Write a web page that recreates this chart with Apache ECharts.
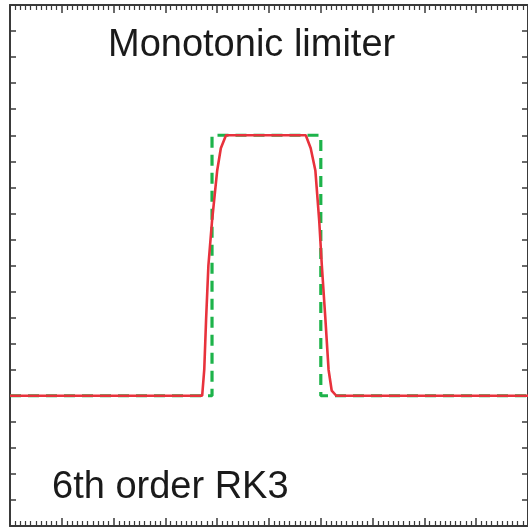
<!DOCTYPE html>
<html>
<head>
<meta charset="utf-8">
<script src="https://cdn.jsdelivr.net/npm/echarts@6/dist/echarts.min.js"></script>
<style>
html,body{margin:0;padding:0;background:#fff;}
#chart{width:528px;height:531px;}
</style>
</head>
<body>
<div id="chart"></div>
<script>
// Exact solution (green dashed square wave)
const exactX = [0, 39, 39, 60, 60, 100];
const exactY = [0, 0, 1, 1, 0, 0];
// Numerical solution (red solid line)
const numX = [0, 37.1, 37.5, 37.85, 38.3, 39.0, 40.0, 40.7, 41.7, 57.1, 58.05, 58.95, 59.7, 60.2, 60.9, 61.5, 62.1, 63.0, 100];
const numY = [0, 0, 0.1, 0.29, 0.5, 0.67, 0.865, 0.95, 1, 1, 0.95, 0.865, 0.67, 0.5, 0.29, 0.1, 0.02, 0, 0];
const titleText = 'Monotonic limiter';
const schemeText = '6th order RK3';

const pair = (xs, ys) => xs.map((x, i) => [x, ys[i]]);
const frameColor = '#3a3a3a';
function xAx(pos) {
  return {
    type: 'value', position: pos, min: 0, max: 100, interval: 10,
    axisLine: {show: true, onZero: false, lineStyle: {color: frameColor, width: 2}},
    axisTick: {show: true, inside: true, length: 8, lineStyle: {color: frameColor, width: 1.5}},
    minorTick: {show: true, splitNumber: 10, length: 5, lineStyle: {color: frameColor, width: 1.2}},
    axisLabel: {show: false}, splitLine: {show: false}, minorSplitLine: {show: false}
  };
}
function yAx(pos) {
  return {
    type: 'value', position: pos, min: -0.5, max: 1.5, interval: 0.1,
    axisLine: {show: true, onZero: false, lineStyle: {color: frameColor, width: 2}},
    axisTick: {show: true, inside: true, length: 6, lineStyle: {color: frameColor, width: 1.5}},
    axisLabel: {show: false}, splitLine: {show: false}
  };
}
const chart = echarts.init(document.getElementById('chart'), null, {renderer: 'canvas'});
chart.setOption({
  animation: false,
  backgroundColor: '#ffffff',
  grid: {left: 10, top: 5, right: -3, bottom: 5, containLabel: false},
  xAxis: [xAx('bottom'), xAx('top')],
  yAxis: [yAx('left'), yAx('right')],
  series: [
    {type: 'line', data: pair(exactX, exactY), showSymbol: false, symbol: 'none',
      lineStyle: {color: '#1db34a', width: 3.2, type: [11, 7]}, z: 2},
    {type: 'line', data: pair(numX, numY), showSymbol: false, symbol: 'none',
      lineStyle: {color: '#e8323c', width: 2.6}, z: 3}
  ],
  graphic: [
    {type: 'text', x: 108, y: 46, style: {text: titleText, font: '38px "Liberation Sans", Arial, sans-serif', fill: '#1a1a1a', verticalAlign: 'middle'}},
    {type: 'text', x: 52, y: 488, style: {text: schemeText, font: '38px "Liberation Sans", Arial, sans-serif', fill: '#1a1a1a', verticalAlign: 'middle'}}
  ]
});
</script>
</body>
</html>
